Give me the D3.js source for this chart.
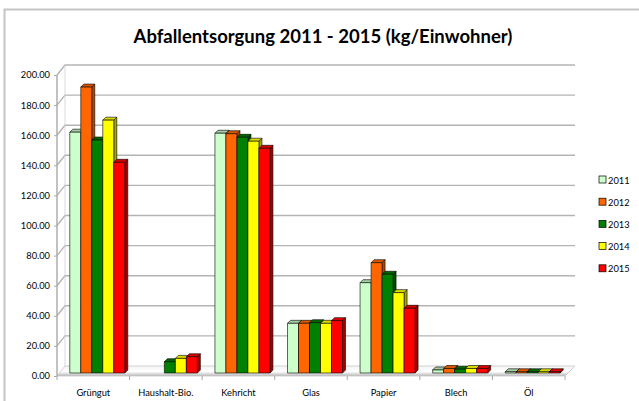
<!DOCTYPE html>
<html><head><meta charset="utf-8">
<script src="https://cdn.jsdelivr.net/npm/d3@7"></script>
<style>
html,body{margin:0;padding:0;background:#fff;}
svg{display:block;}
</style></head>
<body><svg id="c" width="639" height="401"></svg>
<script>
const title = "Abfallentsorgung 2011 - 2015 (kg/Einwohner)";
const categories = ["Grüngut","Haushalt-Bio.","Kehricht","Glas","Papier","Blech","Öl"];
const years = ["2011","2012","2013","2014","2015"];
const v2011 = [160, 0, 159.3, 33, 60, 2, 0.8];
const v2012 = [190, 0, 159, 33, 73.3, 3, 0.8];
const v2013 = [154.8, 7.5, 156.6, 33.4, 65.6, 2.5, 0.8];
const v2014 = [168, 9.7, 154, 33, 53.4, 3, 0.8];
const v2015 = [140, 10.8, 149.3, 34.8, 43, 3, 0.8];
const yTicks = [0,20,40,60,80,100,120,140,160,180,200];
const colors = ["#ccffcc","#ff6600","#008000","#ffff00","#ff0000"];
const sideColors = ["#8fb38f","#b34700","#004d00","#a6a600","#a00000"];
const topColors = ["#a3cca3","#d95700","#006600","#d9d900","#d90000"];

const series = [v2011,v2012,v2013,v2014,v2015];
const svg = d3.select("#c");
const font = "Lato, 'Open Sans', sans-serif";

// outer border
svg.append("path").attr("d","M4.5,401 L4.5,9.5 L639,9.5").attr("fill","none").attr("stroke","#c4c4c4").attr("stroke-width",2);

// title
svg.append("text").attr("x",323).attr("y",43).attr("text-anchor","middle")
  .attr("font-family",font).attr("font-weight","bold").attr("font-size",18.5).attr("fill","#000").text(title);

const x0 = 57, x1 = 565, yBase = 376, yTop = 75;
const wdx = 8, wdy = -10;   // wall depth
const bdx = 3, bdy = -3;    // bar depth

const x = d3.scaleBand().domain(categories).range([x0, x1]).paddingInner(0).paddingOuter(0);
const y = d3.scaleLinear().domain([0,200]).range([yBase, yTop]);
const xs = d3.scaleBand().domain(years).range([0, 55]);

// gradient for floor
const defs = svg.append("defs");
const g = defs.append("linearGradient").attr("id","floor").attr("x1",0).attr("y1",0).attr("x2",0).attr("y2",1);
g.append("stop").attr("offset","0%").attr("stop-color","#f4f4f4");
g.append("stop").attr("offset","55%").attr("stop-color","#ffffff");
g.append("stop").attr("offset","100%").attr("stop-color","#b8b8b8");

// floor
svg.append("polygon")
  .attr("points",[[x0,yBase],[x1,yBase],[x1+wdx+2,yBase+wdy],[x0+wdx,yBase+wdy]].map(p=>p.join(",")).join(" "))
  .attr("fill","url(#floor)").attr("stroke","#c8c8c8").attr("stroke-width",0.8);

// gridlines (left wall diagonal + back wall horizontal)
const grid = svg.append("g").attr("fill","none").attr("stroke","#b4b4b4").attr("stroke-width",1.4);
yTicks.filter(t=>t>0).forEach(t=>{
  const yy = y(t);
  grid.append("path").attr("d",`M${x0},${yy} L${x0+wdx},${yy+wdy} L${x1+wdx+2},${yy+wdy}`);
});
// back wall left edge and left axis line
grid.append("path").attr("d",`M${x0+wdx},${y(200)+wdy} L${x0+wdx},${yBase+wdy}`).attr("stroke-width",0.8).attr("stroke","#d0d0d0");
grid.append("path").attr("d",`M${x0},${y(200)} L${x0},${yBase}`).attr("stroke","#a8a8a8");

// y axis labels
const yAxis = d3.axisLeft(y).tickValues(yTicks).tickFormat(d3.format(".2f")).tickSize(3).tickPadding(4);
const ya = svg.append("g").attr("transform",`translate(${x0},0)`).call(yAxis);
ya.select(".domain").remove();
ya.selectAll("line").attr("stroke","#a8a8a8");
ya.selectAll("text").attr("font-family",font).attr("font-size",9.3).attr("fill","#000");

// x axis
const xAxis = d3.axisBottom(x).tickSize(0).tickPadding(13);
const xa = svg.append("g").attr("transform",`translate(0,${yBase})`).call(xAxis);
xa.select(".domain").remove();
xa.selectAll("text").attr("font-family",font).attr("font-size",9.3).attr("fill","#000");
// category ticks at boundaries
svg.append("g").selectAll("line").data(categories.concat(["_end"])).join("line")
  .attr("x1",(d,i)=>x0 + i*x.bandwidth()).attr("x2",(d,i)=>x0 + i*x.bandwidth())
  .attr("y1",yBase).attr("y2",yBase+4).attr("stroke","#a8a8a8").attr("stroke-width",1);

// bars
const bars = svg.append("g").attr("stroke","#000").attr("stroke-width",0.6).attr("stroke-linejoin","round");
const barBase = yBase - 3;
categories.forEach((c,ci)=>{
  years.forEach((yr,si)=>{
    const v = series[si][ci];
    if (!v) return;
    const bx = x(c) + (x.bandwidth()-55)/2 + 4 + xs(yr);
    const w = xs.bandwidth();
    const top = y(v) - 3;
    const h = barBase - top;
    const gb = bars.append("g");
    gb.append("polygon").attr("points",[[bx+w,top],[bx+w+bdx,top+bdy],[bx+w+bdx,barBase+bdy],[bx+w,barBase]].map(p=>p.join(",")).join(" "))
      .attr("fill",sideColors[si]);
    gb.append("polygon").attr("points",[[bx,top],[bx+w,top],[bx+w+bdx,top+bdy],[bx+bdx,top+bdy]].map(p=>p.join(",")).join(" "))
      .attr("fill",topColors[si]);
    gb.append("rect").attr("x",bx).attr("y",top).attr("width",w).attr("height",h).attr("fill",colors[si]);
  });
});

// legend
const lg = svg.append("g").attr("transform","translate(599,176)");
years.forEach((yr,i)=>{
  const gi = lg.append("g").attr("transform",`translate(0,${i*22.2})`);
  gi.append("rect").attr("x",0).attr("y",0).attr("width",7).attr("height",7).attr("fill",colors[i]).attr("stroke","#000").attr("stroke-width",0.7);
  gi.append("text").attr("x",9).attr("y",7.5).attr("font-family",font).attr("font-size",9.3).attr("fill","#000").text(yr);
});
</script></body></html>
